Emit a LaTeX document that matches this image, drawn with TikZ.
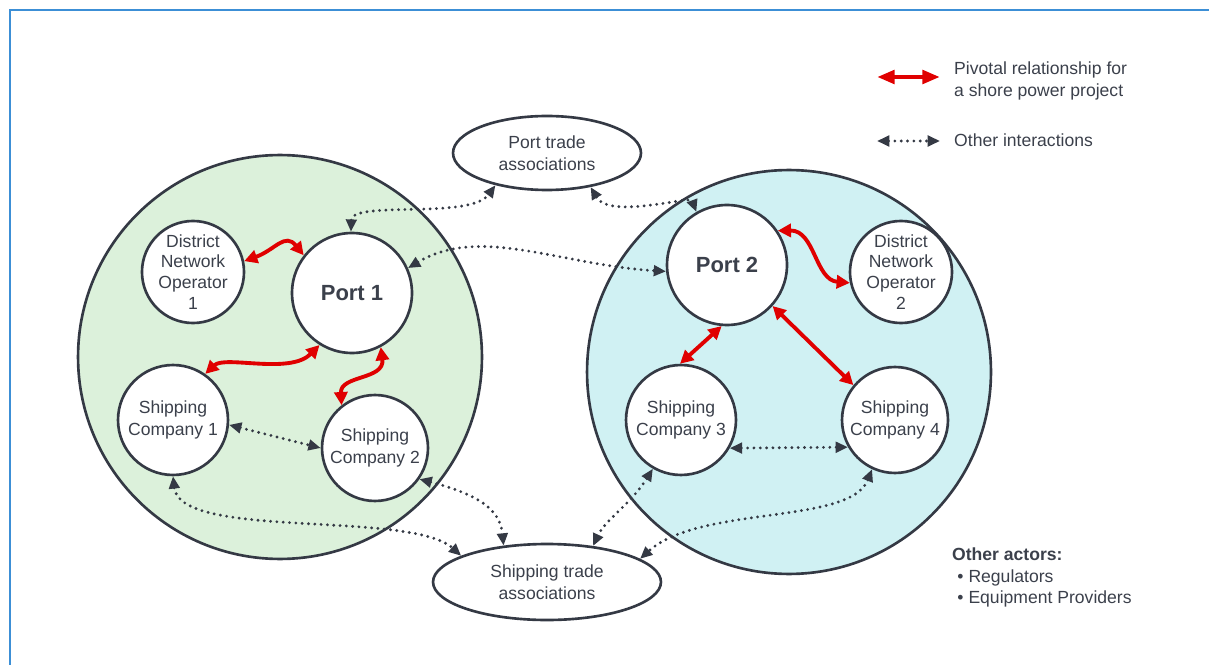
\documentclass[tikz,border=0pt]{standalone}
\usepackage{fontspec}
\setmainfont{Liberation Sans}
\usepackage{tikz}
\usetikzlibrary{arrows.meta}

\definecolor{ink}{HTML}{343944}
\definecolor{txt}{HTML}{3B404B}
\definecolor{pivred}{HTML}{E00000}
\definecolor{greenbg}{HTML}{DCF1DB}
\definecolor{cyanbg}{HTML}{D0F1F3}
\definecolor{framebl}{HTML}{3C8FD6}

\tikzset{
    region/.style={draw=ink, circle, line width=1.5pt, minimum size=8.08cm, inner sep=0pt},
    actor/.style={draw=ink, circle, fill=white, line width=1.5pt, inner sep=0pt, align=center,
                  text=txt, font=\fontsize{10}{12.3}\selectfont},
    assoc/.style={draw=ink, ellipse, fill=white, line width=1.5pt, inner sep=0pt, align=center,
                  text=txt, font=\fontsize{10}{12.3}\selectfont},
    pivotal/.style={draw=pivred, line width=2.2pt, {Triangle[length=7.5pt,width=7.5pt]}-{Triangle[length=7.5pt,width=7.5pt]}},
    other/.style={draw=ink, line width=1.8pt, dash pattern=on 0pt off 3.6pt, line cap=round,
                  {Triangle[length=7pt,width=6pt,fill=ink]}-{Triangle[length=7pt,width=6pt,fill=ink]}},
    legtext/.style={anchor=west, align=left, text=txt, font=\fontsize{10}{12.3}\selectfont}
}
\usetikzlibrary{shapes.geometric}

\begin{document}
\begin{tikzpicture}[x=0.02cm, y=-0.02cm]
    \useasboundingbox (0,0) rectangle (1209,665);
    % frame
    \draw[framebl, line width=1.5pt] (1215,10) -- (10,10) -- (10,675);

    % two port regions
    \node[region, fill=greenbg] (area1) at (280,357) {};
    \node[region, fill=cyanbg] (area2) at (789,372) {};

    % associations
    \node[assoc, minimum width=3.76cm, minimum height=1.48cm] (pta) at (547,153) {Port trade\\associations};
    \node[assoc, minimum width=4.56cm, minimum height=1.52cm] (sta) at (547,582) {Shipping trade\\associations};

    % actors
    \node[actor, minimum size=2.4cm, font=\fontsize{12.5}{14}\selectfont\bfseries] (port1) at (352,293) {Port 1};
    \node[actor, minimum size=1.9cm, font=\fontsize{10}{11.8}\selectfont] (dno1) at (193,272) {District\\Network\\Operator\\1};
    \node[actor, minimum size=2.2cm] (sc1) at (173,420) {Shipping\\Company 1};
    \node[actor, minimum size=2.12cm] (sc2) at (375,448) {Shipping\\Company 2};
    \node[actor, minimum size=2.4cm, font=\fontsize{12.5}{14}\selectfont\bfseries] (port2) at (727,265) {Port 2};
    \node[actor, minimum size=1.92cm, font=\fontsize{10}{11.8}\selectfont] (dno2) at (901,272) {District\\Network\\Operator\\2};
    \node[actor, minimum size=2.2cm] (sc3) at (681,420) {Shipping\\Company 3};
    \node[actor, minimum size=2.12cm] (sc4) at (895,420) {Shipping\\Company 4};

    % pivotal relationships
    \draw[pivotal] (dno1.12) .. controls (275,250) and (285,232) .. (port1.142);
    \draw[pivotal] (sc1.55) .. controls (225,355) and (290,375) .. (port1.238);
    \draw[pivotal] (sc2.128) .. controls (340,375) and (385,380) .. (port1.298);
    \draw[pivotal] (port2.34) .. controls (815,230) and (815,280) .. (dno2.192);
    \draw[pivotal] (sc3.91) -- (port2.265);
    \draw[pivotal] (port2.318) -- (sc4.140);

    % other interactions
    \draw[other] (port1.91) .. controls (352,200) and (470,220) .. (pta.212);
    \draw[other] (pta.322) .. controls (610,220) and (690,195) .. (port2.120);
    \draw[other] (port1.24) .. controls (480,225) and (560,265) .. (port2.186);
    \draw[other] (sc1.-5) -- (sc2.180);
    \draw[other] (sc2.-35) .. controls (480,495) and (500,510) .. (sta.140);
    \draw[other] (sc1.270) .. controls (180,540) and (410,510) .. (sta.163);
    \draw[other] (sc3.240) .. controls (630,505) and (605,520) .. (sta.38);
    \draw[other] (sc3.-30) -- (sc4.210);
    \draw[other] (sc4.245) .. controls (850,525) and (700,505) .. (sta.14);

    % legend
    \coordinate (pivA) at (877,77);
    \coordinate (pivB) at (940,77);
    \coordinate (othA) at (877,141);
    \coordinate (othB) at (940,141);
    \draw[pivotal, line width=2.6pt, {Triangle[length=10pt,width=7.5pt]}-{Triangle[length=10pt,width=7.5pt]}] (pivA) -- (pivB);
    \draw[other] (othA) -- (othB);
    \node[legtext] (pivtext) at (948,81) {Pivotal relationship for\\a shore power project};
    \node[legtext] (othtext) at (948,140) {Other interactions};
    \node[legtext, font=\fontsize{10}{12}\selectfont, anchor=north west] (actors) at (946,542)
        {\textbf{Other actors:}\\\hspace{3pt}\textbullet\ Regulators\\\hspace{3pt}\textbullet\ Equipment Providers};
\end{tikzpicture}
\end{document}
